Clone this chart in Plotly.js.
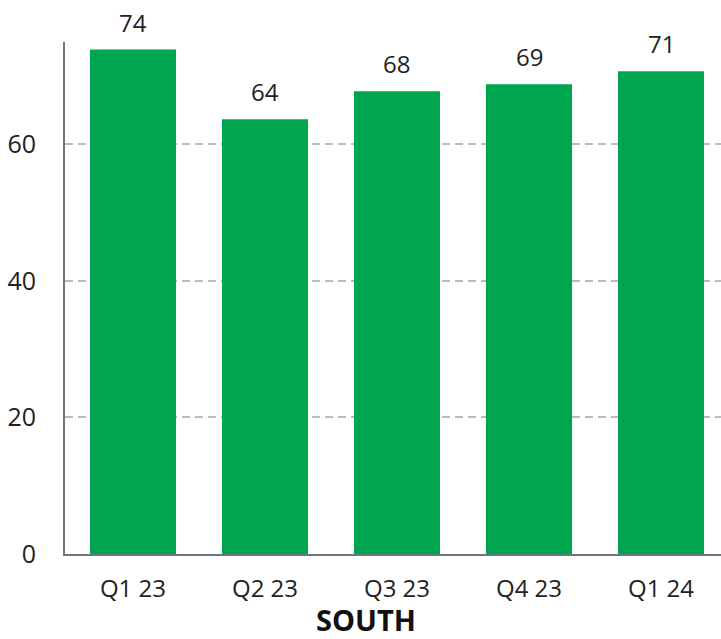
<!DOCTYPE html>
<html>
<head>
<meta charset="utf-8">
<script src="https://cdn.plot.ly/plotly-3.0.1.min.js"></script>
<style>html,body{margin:0;padding:0;background:#fff;}#chart{width:721px;height:639px;}</style>
</head>
<body>
<div id="chart"></div>
<script>
const categories = ["Q1 23", "Q2 23", "Q3 23", "Q4 23", "Q1 24"];
const values = [73.9, 63.7, 67.8, 68.8, 70.7];
const yTicks = [0, 20, 40, 60];
const chartTitle = "SOUTH";

const trace = {
  type: "bar",
  x: categories,
  y: values,
  marker: {color: "#00A550"},
  hoverinfo: "skip"
};

const labelAnnotations = categories.map((c, i) => ({
  x: c, y: values[i], xref: "x", yref: "y",
  text: String(Math.round(values[i])),
  showarrow: false, xanchor: "center", yanchor: "bottom",
  yshift: 9,
  font: {family: "Open Sans", size: 24, color: "#222"}
}));

const layout = {
  width: 721, height: 639,
  margin: {l: 65, r: 0, t: 42, b: 85},
  paper_bgcolor: "#fff", plot_bgcolor: "#fff",
  bargap: 0.348,
  showlegend: false,
  font: {family: "Open Sans", color: "#222"},
  annotations: labelAnnotations,
  title: {
    text: "<b>" + chartTitle + "</b>",
    font: {family: "Open Sans", size: 29, color: "#111"},
    xref: "container", yref: "container",
    x: 0.5076, y: 0.012, xanchor: "center", yanchor: "bottom"
  },
  xaxis: {
    type: "category",
    range: [-0.515, 4.4545],
    showline: true, linecolor: "#6f7680", linewidth: 2,
    showgrid: false, zeroline: false,
    ticks: "", ticklabelstandoff: 12,
    tickfont: {family: "Open Sans", size: 24, color: "#222"}
  },
  yaxis: {
    range: [0, 75],
    tickvals: yTicks,
    ticktext: yTicks.map(String),
    showline: true, linecolor: "#6f7680", linewidth: 2,
    showgrid: true, gridcolor: "#bcbcbc", griddash: "8px,5px", gridwidth: 2,
    zeroline: false,
    ticks: "", ticklabelstandoff: 22,
    tickfont: {family: "Open Sans", size: 25, color: "#222"}
  }
};

Plotly.newPlot("chart", [trace], layout, {displayModeBar: false, staticPlot: true});
</script>
</body>
</html>
